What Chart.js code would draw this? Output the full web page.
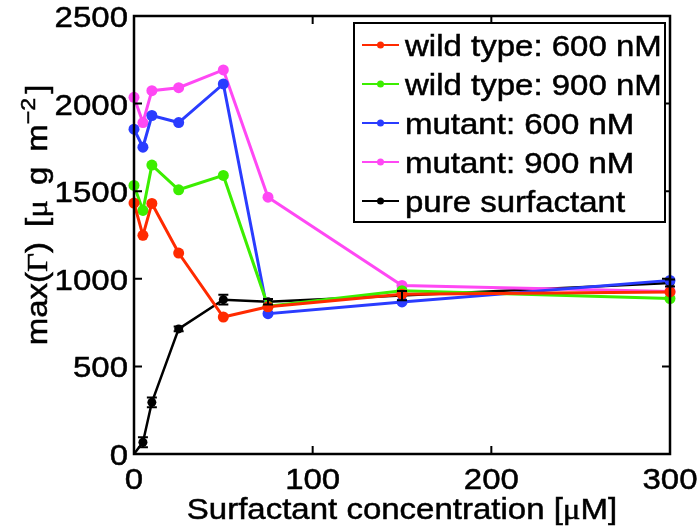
<!DOCTYPE html>
<html>
<head>
<meta charset="utf-8">
<script src="https://cdn.jsdelivr.net/npm/chart.js@4.4.0/dist/chart.umd.min.js"></script>
<style>
  html, body { margin: 0; padding: 0; background: #fff; }
  #wrap { width: 698px; height: 530px; position: relative; }
</style>
</head>
<body>
<div id="wrap"><canvas id="surf-chart"></canvas></div>
<script>
// surfactant concentration [uM]
var conc = [0, 5, 10, 25, 50, 75, 150, 300];

// max(Gamma) per series
var wt600 = [1432, 1248, 1430, 1147, 782, 840, 912, 925];
var wt900 = [1533, 1390, 1649, 1508, 1590, 843, 932, 887];
var mut600 = [1854, 1751, 1932, 1892, 2112, 801, 868, 991];
var mut900 = [2036, 1892, 2074, 2091, 2192, 1466, 962, 928];
var pure = [0, 67, 295, 714, 881, 869, 904, 976];
var pureErr = [0, 28, 28, 14, 28, 15, 26, 20];

var seriesLabels = ['wild type: 600 nM', 'wild type: 900 nM', 'mutant: 600 nM', 'mutant: 900 nM', 'pure surfactant'];
var xTicks = [0, 100, 200, 300];
var yTicks = [0, 500, 1000, 1500, 2000, 2500];

var SANS = '"Liberation Sans", Arial, Helvetica, sans-serif';
var SERIF = '"Liberation Serif", "Times New Roman", serif';
var FS = 30;
var HS = 1.1; // glyphs in the figure are a little wide

function pts(ys) {
  return ys.map(function(y, i) { return { x: conc[i], y: y }; });
}

function mkSet(label, ys, color, lw) {
  return {
    label: label,
    data: pts(ys),
    borderColor: color,
    backgroundColor: color,
    borderWidth: lw,
    pointRadius: 5.5,
    pointBorderWidth: 0,
    pointBackgroundColor: color,
    tension: 0,
    clip: false
  };
}

var datasets = [
  mkSet(seriesLabels[0], wt600, '#ff2a00', 3),
  mkSet(seriesLabels[1], wt900, '#3cee00', 3),
  mkSet(seriesLabels[2], mut600, '#2a3cff', 3),
  mkSet(seriesLabels[3], mut900, '#ff48f4', 3),
  mkSet(seriesLabels[4], pure, '#000000', 2.5)
];
// no marker at the origin for the surfactant-only curve
datasets[4].pointRadius = pure.map(function(v, i) { return i === 0 ? 0 : 4.5; });

// fill plus a hairline stroke so the text has some weight
function ink(ctx, txt) {
  ctx.fillText(txt, 0, 0);
  ctx.lineWidth = 0.5;
  ctx.strokeStyle = ctx.fillStyle;
  ctx.strokeText(txt, 0, 0);
}

// text stretched horizontally by HS
function wideText(ctx, txt, x, y, align) {
  ctx.save();
  ctx.font = FS + 'px ' + SANS;
  ctx.textBaseline = 'alphabetic';
  var w = ctx.measureText(txt).width * HS;
  var x0 = align === 'right' ? x - w : align === 'center' ? x - w / 2 : x;
  ctx.translate(x0, y);
  ctx.scale(HS, 1);
  ctx.textAlign = 'left';
  ink(ctx, txt);
  ctx.restore();
}

// mixed-font runs centred on cx, baseline at by; r.gap adds space before a run
function drawRuns(ctx, runs, cx, by) {
  var total = 0;
  runs.forEach(function(r) {
    ctx.font = r.f;
    r.w = ctx.measureText(r.t).width * HS + (r.gap || 0);
    total += r.w;
  });
  var x = cx - total / 2;
  ctx.textAlign = 'left';
  ctx.textBaseline = 'alphabetic';
  runs.forEach(function(r) {
    ctx.save();
    ctx.font = r.f;
    ctx.translate(x + (r.gap || 0), by + (r.dy || 0));
    ctx.scale(HS, 1);
    ink(ctx, r.t);
    ctx.restore();
    x += r.w;
  });
}

// error bars, box, inward ticks, tick labels, legend and axis titles
var decor = {
  id: 'decor',
  afterDatasetsDraw: function(chart) {
    var ctx = chart.ctx;
    var xs = chart.scales.x, ys = chart.scales.y;
    ctx.save();
    ctx.strokeStyle = '#000';
    ctx.lineWidth = 2;
    pure.forEach(function(v, i) {
      var e = pureErr[i];
      if (!e) return;
      var px = xs.getPixelForValue(conc[i]);
      var y1 = ys.getPixelForValue(v - e), y2 = ys.getPixelForValue(v + e);
      ctx.beginPath();
      ctx.moveTo(px, y1); ctx.lineTo(px, y2);
      ctx.moveTo(px - 5, y1); ctx.lineTo(px + 5, y1);
      ctx.moveTo(px - 5, y2); ctx.lineTo(px + 5, y2);
      ctx.stroke();
    });
    ctx.restore();
  },
  afterDraw: function(chart) {
    var ctx = chart.ctx;
    var a = chart.chartArea;
    var xs = chart.scales.x, ys = chart.scales.y;
    ctx.save();

    // axes box
    ctx.strokeStyle = '#000';
    ctx.lineWidth = 2.5;
    ctx.strokeRect(a.left, a.top, a.right - a.left, a.bottom - a.top);

    // tick marks pointing inward on all four sides
    var tl = 8;
    ctx.lineWidth = 2;
    ctx.beginPath();
    xTicks.forEach(function(t) {
      var px = xs.getPixelForValue(t);
      ctx.moveTo(px, a.bottom); ctx.lineTo(px, a.bottom - tl);
      ctx.moveTo(px, a.top); ctx.lineTo(px, a.top + tl);
    });
    yTicks.forEach(function(t) {
      var py = ys.getPixelForValue(t);
      ctx.moveTo(a.left, py); ctx.lineTo(a.left + tl, py);
      ctx.moveTo(a.right, py); ctx.lineTo(a.right - tl, py);
    });
    ctx.stroke();

    // tick labels
    ctx.fillStyle = '#000';
    xTicks.forEach(function(t) {
      wideText(ctx, String(t), xs.getPixelForValue(t), a.bottom + 35, 'center');
    });
    yTicks.forEach(function(t) {
      wideText(ctx, String(t), a.left - 6, ys.getPixelForValue(t) + 11, 'right');
    });

    // legend
    var lx = 354, ly = 23, lw = 311, lh = 199;
    ctx.fillStyle = '#fff';
    ctx.fillRect(lx, ly, lw, lh);
    ctx.lineWidth = 2;
    ctx.strokeStyle = '#000';
    ctx.strokeRect(lx, ly, lw, lh);
    chart.data.datasets.forEach(function(ds, i) {
      var cy = 45 + i * 39;
      ctx.strokeStyle = ds.borderColor;
      ctx.lineWidth = 2;
      ctx.beginPath();
      ctx.moveTo(362, cy); ctx.lineTo(399, cy);
      ctx.stroke();
      ctx.fillStyle = ds.borderColor;
      ctx.beginPath();
      ctx.arc(380.5, cy, 3.5, 0, Math.PI * 2);
      ctx.fill();
      ctx.fillStyle = '#000';
      wideText(ctx, ds.label, 405, cy + 11, 'left');
    });

    // axis titles
    ctx.fillStyle = '#000';
    drawRuns(ctx, [
      { t: 'Surfactant concentration [', f: FS + 'px ' + SANS },
      { t: 'μ', f: FS + 'px ' + SERIF },
      { t: 'M]', f: FS + 'px ' + SANS }
    ], (a.left + a.right) / 2, 519);

    ctx.save();
    ctx.translate(37, 215);
    ctx.rotate(-Math.PI / 2);
    drawRuns(ctx, [
      { t: 'max(', f: FS + 'px ' + SANS },
      { t: 'Γ', f: FS + 'px ' + SERIF },
      { t: ')', f: FS + 'px ' + SANS },
      { t: '[', f: FS + 'px ' + SANS, gap: 15 },
      { t: 'μ', f: FS + 'px ' + SERIF },
      { t: 'g', f: FS + 'px ' + SANS, gap: 15 },
      { t: 'm', f: FS + 'px ' + SANS, gap: 15 },
      { t: '−2', f: '21px ' + SANS, dy: -12 },
      { t: ']', f: FS + 'px ' + SANS, gap: 4 }
    ], 0, 10);
    ctx.restore();

    ctx.restore();
  }
};

new Chart(document.getElementById('surf-chart'), {
  type: 'line',
  data: { datasets: datasets },
  options: {
    responsive: true,
    maintainAspectRatio: false,
    animation: false,
    layout: { padding: { left: 0, top: 16, right: 28, bottom: 0 } },
    plugins: { legend: { display: false }, tooltip: { enabled: false } },
    scales: {
      x: {
        type: 'linear',
        min: 0, max: 300,
        afterBuildTicks: function(s) { s.ticks = xTicks.map(function(v) { return { value: v }; }); },
        afterFit: function(s) { s.height = 76; },
        grid: { display: false, drawTicks: false },
        border: { display: false },
        ticks: { display: false }
      },
      y: {
        type: 'linear',
        min: 0, max: 2500,
        afterBuildTicks: function(s) { s.ticks = yTicks.map(function(v) { return { value: v }; }); },
        afterFit: function(s) { s.width = 134; },
        grid: { display: false, drawTicks: false },
        border: { display: false },
        ticks: { display: false }
      }
    }
  },
  plugins: [decor]
});
</script>
</body>
</html>
